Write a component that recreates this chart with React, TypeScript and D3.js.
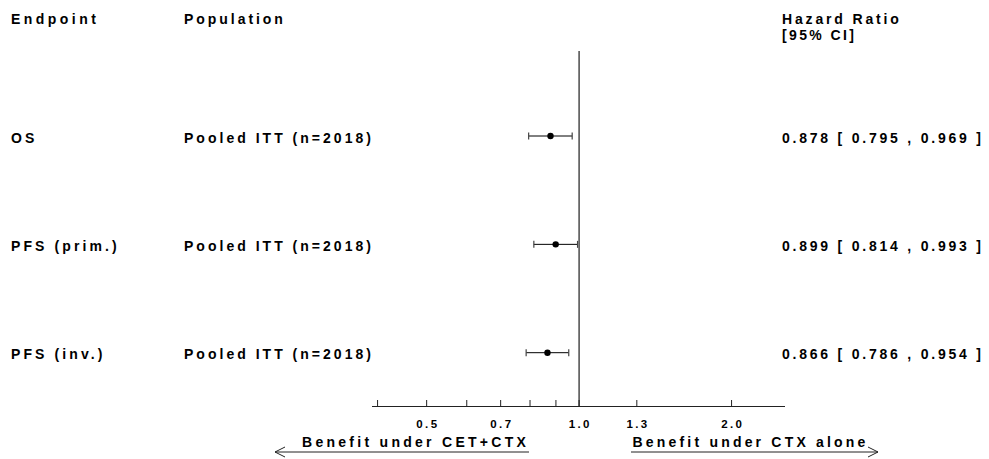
import React from "react";
import * as d3 from "d3";

// Forest plot data: one row per endpoint
const endpoints = ["OS", "PFS (prim.)", "PFS (inv.)"];
const populations = ["Pooled ITT (n=2018)", "Pooled ITT (n=2018)", "Pooled ITT (n=2018)"];
const hazardRatios = [0.878, 0.899, 0.866];
const ciLower = [0.795, 0.814, 0.786];
const ciUpper = [0.969, 0.993, 0.954];

// Axis ticks (unlabelled minor ticks have empty labels)
const tickValues = [0.4, 0.5, 0.6, 0.7, 0.8, 0.9, 1.0, 1.3, 2.0];
const tickLabels = ["", "0.5", "", "0.7", "", "", "1.0", "1.3", "2.0"];

const W = 989;
const H = 459;
const FONT = "'Liberation Sans', Arial, Helvetica, sans-serif";

export default function App() {
  const x = d3.scaleLog().domain([0.39, 2.55]).range([372, 785]);
  const y = d3.scalePoint<string>().domain(endpoints).range([136, 352.7]);
  const axisY = 406.5;
  const refTop = 51;
  const fmt = d3.format(".3f");

  const textStyle = {
    fontFamily: FONT,
    fontWeight: 700 as const,
    fontSize: 14,
    letterSpacing: 3.1,
    fill: "#000",
  };
  const fit = (w: number) => ({ textLength: w, lengthAdjust: "spacing" as const });

  return (
    <svg
      width={W}
      height={H}
      style={{ position: "absolute", left: 0, top: 0, background: "#fff" }}
    >
      {/* Column headers */}
      <text x={11} y={24} {...textStyle} {...fit(88)}>Endpoint</text>
      <text x={184} y={24} {...textStyle} {...fit(102)}>Population</text>
      <text x={782} y={23.5} {...textStyle} {...fit(120)}>Hazard Ratio</text>
      <text x={782} y={40} {...textStyle} {...fit(75)}>[95% CI]</text>

      {/* Reference line at HR = 1 */}
      <line
        x1={x(1)}
        x2={x(1)}
        y1={refTop}
        y2={axisY}
        stroke="#555"
        strokeWidth={1.6}
      />

      {endpoints.map((ep, i) => {
        const cy = y(ep)!;
        return (
          <g key={ep}>
            <text x={11} y={cy + 6.5} {...textStyle}>{ep}</text>
            <text x={184} y={cy + 6.5} {...textStyle} {...fit(190)}>
              {populations[i]}
            </text>
            <line
              x1={x(ciLower[i])}
              x2={x(ciUpper[i])}
              y1={cy}
              y2={cy}
              stroke="#000"
              strokeWidth={1}
            />
            <line
              x1={x(ciLower[i])}
              x2={x(ciLower[i])}
              y1={cy - 3.5}
              y2={cy + 3.5}
              stroke="#444"
              strokeWidth={1.2}
            />
            <line
              x1={x(ciUpper[i])}
              x2={x(ciUpper[i])}
              y1={cy - 3.5}
              y2={cy + 3.5}
              stroke="#444"
              strokeWidth={1.2}
            />
            <circle cx={x(hazardRatios[i])} cy={cy} r={3.2} fill="#000" />
            <text x={782} y={cy + 6.5} {...textStyle} {...fit(202)}>
              {`${fmt(hazardRatios[i])} [ ${fmt(ciLower[i])} , ${fmt(ciUpper[i])} ]`}
            </text>
          </g>
        );
      })}

      {/* X axis */}
      <line x1={372} x2={785} y1={axisY} y2={axisY} stroke="#222" strokeWidth={1} />
      {tickValues.map((t, i) => (
        <g key={t}>
          <line
            x1={x(t)}
            x2={x(t)}
            y1={axisY}
            y2={axisY - 6.5}
            stroke="#222"
            strokeWidth={1}
          />
          {tickLabels[i] && (
            <text
              x={x(t) + 1.2}
              y={427.5}
              textAnchor="middle"
              {...textStyle}
              fontSize={11.5}
              letterSpacing={2.4}
            >
              {tickLabels[i]}
            </text>
          )}
        </g>
      ))}

      {/* Direction-of-benefit annotations */}
      <text x={302} y={447} {...textStyle} {...fit(227)}>
        Benefit under CET+CTX
      </text>
      <line x1={275} x2={529} y1={452} y2={452} stroke="#222" strokeWidth={1} />
      <polyline
        points={`${285},${447} ${275},${452} ${285},${457}`}
        fill="none"
        stroke="#222"
        strokeWidth={1}
      />

      <text x={632.5} y={447} {...textStyle} {...fit(236)}>
        Benefit under CTX alone
      </text>
      <line x1={631} x2={878} y1={452} y2={452} stroke="#222" strokeWidth={1} />
      <polyline
        points={`${868},${447} ${878},${452} ${868},${457}`}
        fill="none"
        stroke="#222"
        strokeWidth={1}
      />
    </svg>
  );
}
